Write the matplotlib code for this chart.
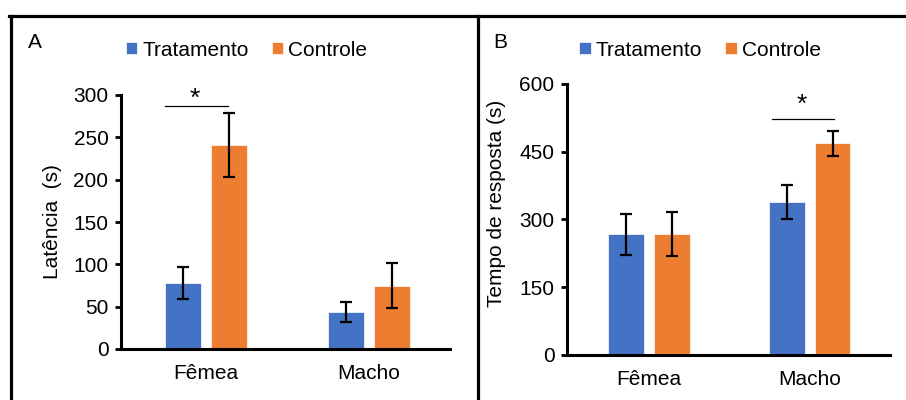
import numpy as np
import matplotlib
matplotlib.use('Agg')
import matplotlib.pyplot as plt
from matplotlib.lines import Line2D

plt.rcParams['font.family'] = ['Liberation Sans', 'DejaVu Sans']

# dados
grupos = ['Fêmea', 'Macho']
series = ['Tratamento', 'Controle']
cores = ['#4472C4', '#ED7D31']

lat_trat = [78, 44]
lat_trat_err = [19, 12]
lat_ctrl = [241, 75]
lat_ctrl_err = [38, 27]

resp_trat = [267, 338]
resp_trat_err = [46, 38]
resp_ctrl = [268, 469]
resp_ctrl_err = [49, 28]

W, H = 906, 400
fig = plt.figure(figsize=(W / 100, H / 100), dpi=100)


def px_axes(l, r, top, bot):
    return fig.add_axes([l / W, 1 - bot / H, (r - l) / W, (bot - top) / H])


def painel(ax, trat, trat_err, ctrl, ctrl_err, ymax, ystep, xlim):
    x = np.arange(len(grupos))
    off, w = 0.143, 0.222
    ax.bar(x - off, trat, w, color=cores[0], edgecolor='white', linewidth=0.5,
           label=series[0])
    ax.bar(x + off, ctrl, w, color=cores[1], edgecolor='white', linewidth=0.5,
           label=series[1])
    ekw = dict(fmt='none', ecolor='black', elinewidth=1.6, capsize=4.5, capthick=1.6)
    ax.errorbar(x - off, trat, yerr=trat_err, **ekw)
    ax.errorbar(x + off, ctrl, yerr=ctrl_err, **ekw)
    ax.set_ylim(0, ymax)
    ax.set_xlim(*xlim)
    ax.set_yticks(np.arange(0, ymax + 1, ystep))
    ax.set_xticks(x)
    ax.set_xticklabels(grupos)
    for s in ['top', 'right']:
        ax.spines[s].set_visible(False)
    for s in ['left', 'bottom']:
        ax.spines[s].set_linewidth(2.2)
    ax.tick_params(axis='y', direction='out', length=4, width=2, labelsize=15, pad=5)
    ax.tick_params(axis='x', length=0, labelsize=15, pad=11)
    return x, off


# painel A
axA = px_axes(121, 450, 95, 349)
x, off = painel(axA, lat_trat, lat_trat_err, lat_ctrl, lat_ctrl_err, 300, 50,
                (-0.521, 1.497))
axA.plot([x[0] - off - 0.11, x[0] + off - 0.008], [287, 287], color='black',
         lw=0.9, clip_on=False)
axA.text(-0.067, 295, '*', ha='center', va='center', fontsize=19, clip_on=False)

# painel B
axB = px_axes(567, 890, 84, 355)
x, off = painel(axB, resp_trat, resp_trat_err, resp_ctrl, resp_ctrl_err, 600, 150,
                (-0.511, 1.50))
axB.plot([x[1] - off - 0.093, x[1] + off + 0.01], [523, 523], color='black',
         lw=0.9, clip_on=False)
axB.text(1 - 0.049, 553, '*', ha='center', va='center', fontsize=19, clip_on=False)

# legendas
for ax, cx in [(axA, 246.5), (axB, 700)]:
    ax.legend(loc='center', bbox_to_anchor=(cx / W, 1 - 50 / H),
              bbox_transform=fig.transFigure, ncol=2, frameon=False, fontsize=15,
              handlelength=0.55, handleheight=0.55, handletextpad=0.25,
              columnspacing=1.1, borderpad=0)

# rotulos
fig.text(52 / W, 1 - 222 / H, 'Latência  (s)', rotation=90, ha='center',
         va='center', fontsize=15)
fig.text(497 / W, 1 - 203 / H, 'Tempo de resposta (s)', rotation=90, ha='center',
         va='center', fontsize=15)
fig.text(28 / W, 1 - 43 / H, 'A', ha='left', va='center', fontsize=15)
fig.text(493 / W, 1 - 43 / H, 'B', ha='left', va='center', fontsize=15)

# bordas dos paineis
lw_b = 2.3
fig.add_artist(Line2D([9 / W, 1], [1 - 16 / H, 1 - 16 / H], color='black',
                      lw=lw_b, transform=fig.transFigure))
fig.add_artist(Line2D([10.5 / W, 10.5 / W], [1 - 16 / H, 0], color='black',
                      lw=lw_b, transform=fig.transFigure))
fig.add_artist(Line2D([477.5 / W, 477.5 / W], [1 - 16 / H, 0], color='black',
                      lw=lw_b, transform=fig.transFigure))

plt.savefig('out.png', dpi=100)
